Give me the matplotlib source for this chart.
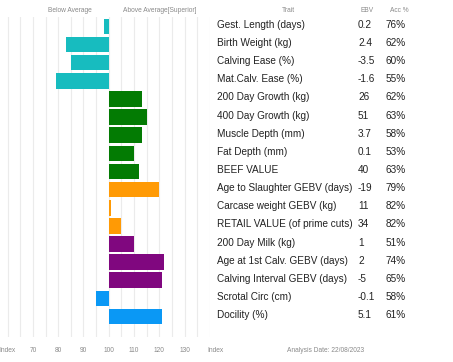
import numpy as np
import matplotlib.pyplot as plt
from matplotlib import transforms

traits = ["Gest. Length (days)", "Birth Weight (kg)", "Calving Ease (%)", "Mat.Calv. Ease (%)",
          "200 Day Growth (kg)", "400 Day Growth (kg)", "Muscle Depth (mm)", "Fat Depth (mm)",
          "BEEF VALUE", "Age to Slaughter GEBV (days)", "Carcase weight GEBV (kg)",
          "RETAIL VALUE (of prime cuts)", "200 Day Milk (kg)", "Age at 1st Calv. GEBV (days)",
          "Calving Interval GEBV (days)", "Scrotal Circ (cm)", "Docility (%)"]
ebv = ["0.2", "2.4", "-3.5", "-1.6", "26", "51", "3.7", "0.1", "40", "-19", "11", "34",
       "1", "2", "-5", "-0.1", "5.1"]
acc = ["76%", "62%", "60%", "55%", "62%", "63%", "58%", "53%", "63%", "79%", "82%", "82%",
       "51%", "74%", "65%", "58%", "61%"]
index_vals = [98, 83, 85, 79, 113, 115, 113, 110, 112, 120, 101, 105, 110, 122, 121, 95, 121]
groups = ["calving"] * 4 + ["growth"] * 5 + ["carcase"] * 3 + ["maternal"] * 3 + ["other"] * 2

colors = {"calving": "#17bcbf", "growth": "#037b03", "carcase": "#ff9a05",
          "maternal": "#80077f", "other": "#0a98f5"}

W, H = 453, 362
fig = plt.figure(figsize=(W / 100, H / 100), dpi=100)

def fx(px):
    return px / W

def fy(py):
    return 1 - py / H

ax = fig.add_axes([0, fy(337), fx(210), fy(17) - fy(337)])
n = len(traits)
y = np.arange(n)
for i in range(n):
    ax.barh(y[i], index_vals[i] - 100, left=100, height=0.86, color=colors[groups[i]])

ax.set_xlim(57, 140)
ax.set_ylim(n - 1 + 1.13, -0.52)
for g in np.arange(60, 141, 5):
    ax.axvline(g, color="#ebebeb", lw=0.8, zorder=0)
ax.set_xticks([])
ax.set_yticks([])
for s in ax.spines.values():
    s.set_visible(False)

font = "Liberation Sans"
txt_color = "#222222"
grey = "#8a8a8a"

# headers
fig.text(fx(70), fy(11), "Below Average", fontsize=4.8, color=grey, ha="center", va="center", family=font)
fig.text(fx(160), fy(11), "Above Average[Superior]", fontsize=4.8, color=grey, ha="center", va="center", family=font)
fig.text(fx(288), fy(11), "Trait", fontsize=4.8, color=grey, ha="center", va="center", family=font)
fig.text(fx(367), fy(11), "EBV", fontsize=4.8, color=grey, ha="center", va="center", family=font)
fig.text(fx(399), fy(11), "Acc %", fontsize=4.8, color=grey, ha="center", va="center", family=font)

# table rows
tr = transforms.blended_transform_factory(fig.transFigure, ax.transData)
for i in range(n):
    fig.text(fx(217), y[i] - 0.08, traits[i], transform=tr, fontsize=7.2, color=txt_color,
             ha="left", va="center", family=font)
    fig.text(fx(358), y[i] - 0.08, ebv[i], transform=tr, fontsize=7.2, color=txt_color,
             ha="left", va="center", family=font)
    fig.text(fx(386), y[i] - 0.08, acc[i], transform=tr, fontsize=7.2, color=txt_color,
             ha="left", va="center", family=font)

# bottom scale
trx = transforms.blended_transform_factory(ax.transData, fig.transFigure)
for v in [70, 80, 90, 100, 110, 120, 130]:
    fig.text(v, fy(350), str(v), transform=trx, fontsize=4.8, color=grey, ha="center", va="center", family=font)
fig.text(fx(7), fy(350), "Index", fontsize=4.8, color=grey, ha="center", va="center", family=font)
fig.text(fx(215), fy(350), "Index", fontsize=4.8, color=grey, ha="center", va="center", family=font)
fig.text(fx(326), fy(350), "Analysis Date: 22/08/2023", fontsize=4.8, color=grey, ha="center", va="center", family=font)

fig.savefig("out.png", dpi=100)
